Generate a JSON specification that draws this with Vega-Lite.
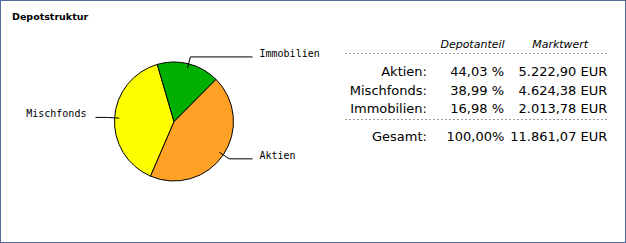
{
  "$schema": "https://vega.github.io/schema/vega-lite/v6.json",
  "width": 626,
  "height": 243,
  "padding": 0,
  "autosize": {"type": "none"},
  "background": "#ffffff",
  "title": {
    "text": "Depotstruktur",
    "anchor": "start",
    "frame": "group",
    "offset": -29,
    "dx": 12,
    "baseline": "alphabetic",
    "font": "DejaVu Sans",
    "fontSize": 9.5,
    "fontWeight": "bold",
    "color": "#000000"
  },
  "config": {
    "view": {"stroke": "#52699b", "strokeWidth": 2},
    "axis": {"disable": true},
    "locale": {"number": {"decimal": ",", "thousands": ".", "grouping": [3], "currency": ["", " EUR"], "percent": " %"}},
    "text": {"font": "DejaVu Sans", "color": "#000000"}
  },
  "datasets": {
    "depot": [
      {"kategorie": "Aktien", "anteil": 44.03, "marktwert": 5222.90},
      {"kategorie": "Mischfonds", "anteil": 38.99, "marktwert": 4624.38},
      {"kategorie": "Immobilien", "anteil": 16.98, "marktwert": 2013.78}
    ],
    "gesamt": [
      {"kategorie": "Gesamt", "anteil": 100.00, "marktwert": 11861.07}
    ]
  },
  "resolve": {"scale": {"x": "independent", "y": "independent"}},
  "layer": [
    {
      "data": {"name": "depot"},
      "transform": [
        {"calculate": "indexof(['Immobilien','Aktien','Mischfonds'], datum.kategorie)", "as": "reihenfolge"},
        {"joinaggregate": [{"op": "sum", "field": "anteil", "as": "summe"}]},
        {"window": [{"op": "sum", "field": "anteil", "as": "kum"}], "sort": [{"field": "reihenfolge"}], "frame": [null, 0]},
        {"calculate": "datum.kum - datum.anteil", "as": "start"},
        {"calculate": "-0.2845 + 2 * PI * (datum.kum - datum.anteil / 2) / datum.summe", "as": "winkel"},
        {"calculate": "0.92 * sin(datum.winkel)", "as": "ax"},
        {"calculate": "0.92 * cos(datum.winkel)", "as": "ay"},
        {"calculate": "1.12 * sin(datum.winkel)", "as": "bx"},
        {"calculate": "1.12 * cos(datum.winkel)", "as": "by"},
        {"calculate": "sin(datum.winkel) > 0 ? 1.32 : -1.32", "as": "cx"}
      ],
      "layer": [
        {
          "mark": {"type": "arc", "radius": 59.5, "stroke": "#000000", "strokeWidth": 1},
          "encoding": {
            "x": {"datum": 0, "type": "quantitative", "scale": {"domain": [-2.924, 7.597], "nice": false, "zero": false}},
            "y": {"datum": 0, "type": "quantitative", "scale": {"domain": [-2.042, 2.042], "nice": false, "zero": false}},
            "theta": {"field": "start", "type": "quantitative", "stack": null, "scale": {"domain": [0, 100], "range": [-0.2845, 5.9987]}},
            "theta2": {"field": "kum"},
            "color": {
              "field": "kategorie",
              "type": "nominal",
              "legend": null,
              "scale": {"domain": ["Aktien", "Mischfonds", "Immobilien"], "range": ["#ffa124", "#ffff00", "#00b000"]}
            }
          }
        },
        {
          "mark": {"type": "rule", "color": "#000000", "strokeWidth": 1},
          "encoding": {
            "x": {"field": "ax", "type": "quantitative", "scale": {"domain": [-2.924, 7.597], "nice": false, "zero": false}},
            "y": {"field": "ay", "type": "quantitative", "scale": {"domain": [-2.042, 2.042], "nice": false, "zero": false}},
            "x2": {"field": "bx"},
            "y2": {"field": "by"}
          }
        },
        {
          "mark": {"type": "rule", "color": "#000000", "strokeWidth": 1},
          "encoding": {
            "x": {"field": "bx", "type": "quantitative", "scale": {"domain": [-2.924, 7.597], "nice": false, "zero": false}},
            "y": {"field": "by", "type": "quantitative", "scale": {"domain": [-2.042, 2.042], "nice": false, "zero": false}},
            "x2": {"field": "cx"}
          }
        },
        {
          "transform": [{"filter": "datum.cx > 0"}],
          "mark": {"type": "text", "font": "DejaVu Sans Mono", "fontSize": 10, "align": "left", "baseline": "alphabetic", "dx": 7, "color": "#000000"},
          "encoding": {
            "x": {"field": "cx", "type": "quantitative", "scale": {"domain": [-2.924, 7.597], "nice": false, "zero": false}},
            "y": {"field": "by", "type": "quantitative", "scale": {"domain": [-2.042, 2.042], "nice": false, "zero": false}},
            "text": {"field": "kategorie"}
          }
        },
        {
          "transform": [{"filter": "datum.cx < 0"}],
          "mark": {"type": "text", "font": "DejaVu Sans Mono", "fontSize": 10, "align": "right", "baseline": "alphabetic", "dx": -9, "color": "#000000"},
          "encoding": {
            "x": {"field": "cx", "type": "quantitative", "scale": {"domain": [-2.924, 7.597], "nice": false, "zero": false}},
            "y": {"field": "by", "type": "quantitative", "scale": {"domain": [-2.042, 2.042], "nice": false, "zero": false}},
            "text": {"field": "kategorie"}
          }
        }
      ]
    },
    {
      "layer": [
        {
          "data": {"values": [{}]},
          "mark": {"type": "rule", "color": "#9a9a9a", "strokeWidth": 1, "strokeDash": [2, 2], "yOffset": -4},
          "encoding": {
            "x": {"datum": "Kategorie", "type": "nominal", "bandPosition": 0, "scale": {"type": "band", "domain": ["Kategorie", "Depotanteil", "Marktwert"], "range": [345, 608], "paddingInner": 0, "paddingOuter": 0}},
            "x2": {"datum": "Marktwert", "bandPosition": 1},
            "y": {"datum": "Kopf", "type": "nominal", "scale": {"type": "point", "domain": ["Kopf", "Aktien", "Mischfonds", "Immobilien", "Gesamt"], "range": [57.5, 131.5], "padding": 0}}
          }
        },
        {
          "data": {"values": [{}]},
          "mark": {"type": "rule", "color": "#9a9a9a", "strokeWidth": 1, "strokeDash": [2, 2], "yOffset": 6.5},
          "encoding": {
            "x": {"datum": "Kategorie", "type": "nominal", "bandPosition": 0},
            "x2": {"datum": "Marktwert", "bandPosition": 1},
            "y": {"datum": "Immobilien", "type": "nominal"}
          }
        },
        {
          "data": {"values": [{"spalte": "Depotanteil"}, {"spalte": "Marktwert"}]},
          "mark": {"type": "text", "fontStyle": "italic", "fontSize": 11, "align": "center", "baseline": "alphabetic", "dx": -4, "dy": -9.5},
          "encoding": {
            "x": {"field": "spalte", "type": "nominal"},
            "y": {"datum": "Kopf", "type": "nominal"},
            "text": {"field": "spalte"}
          }
        },
        {
          "data": {"name": "depot"},
          "transform": [{"calculate": "datum.kategorie + ':'", "as": "beschriftung"}],
          "mark": {"type": "text", "fontSize": 13, "align": "right", "baseline": "alphabetic", "dx": -5.7},
          "encoding": {
            "x": {"datum": "Kategorie", "type": "nominal", "bandPosition": 1},
            "y": {"field": "kategorie", "type": "nominal"},
            "text": {"field": "beschriftung"}
          }
        },
        {
          "data": {"name": "depot"},
          "transform": [{"calculate": "datum.anteil / 100", "as": "quote"}],
          "mark": {"type": "text", "fontSize": 13, "align": "right", "baseline": "alphabetic", "dx": -16.3},
          "encoding": {
            "x": {"datum": "Depotanteil", "type": "nominal", "bandPosition": 1},
            "y": {"field": "kategorie", "type": "nominal"},
            "text": {"field": "quote", "type": "quantitative", "format": ".2%"}
          }
        },
        {
          "data": {"name": "depot"},
          "mark": {"type": "text", "fontSize": 13, "align": "right", "baseline": "alphabetic", "dx": -0.7},
          "encoding": {
            "x": {"datum": "Marktwert", "type": "nominal", "bandPosition": 1},
            "y": {"field": "kategorie", "type": "nominal"},
            "text": {"field": "marktwert", "type": "quantitative", "format": "$,.2f"}
          }
        },
        {
          "data": {"name": "gesamt"},
          "transform": [{"calculate": "datum.kategorie + ':'", "as": "beschriftung"}],
          "mark": {"type": "text", "fontSize": 13, "align": "right", "baseline": "alphabetic", "dx": -5.7, "dy": 9.2},
          "encoding": {
            "x": {"datum": "Kategorie", "type": "nominal", "bandPosition": 1},
            "y": {"field": "kategorie", "type": "nominal"},
            "text": {"field": "beschriftung"}
          }
        },
        {
          "data": {"name": "gesamt"},
          "transform": [{"calculate": "format(datum.anteil, ',.2f') + '%'", "as": "quote_text"}],
          "mark": {"type": "text", "fontSize": 13, "align": "right", "baseline": "alphabetic", "dx": -16, "dy": 9.2},
          "encoding": {
            "x": {"datum": "Depotanteil", "type": "nominal", "bandPosition": 1},
            "y": {"field": "kategorie", "type": "nominal"},
            "text": {"field": "quote_text"}
          }
        },
        {
          "data": {"name": "gesamt"},
          "mark": {"type": "text", "fontSize": 13, "align": "right", "baseline": "alphabetic", "dx": -0.7, "dy": 9.2},
          "encoding": {
            "x": {"datum": "Marktwert", "type": "nominal", "bandPosition": 1},
            "y": {"field": "kategorie", "type": "nominal"},
            "text": {"field": "marktwert", "type": "quantitative", "format": "$,.2f"}
          }
        }
      ]
    }
  ]
}
